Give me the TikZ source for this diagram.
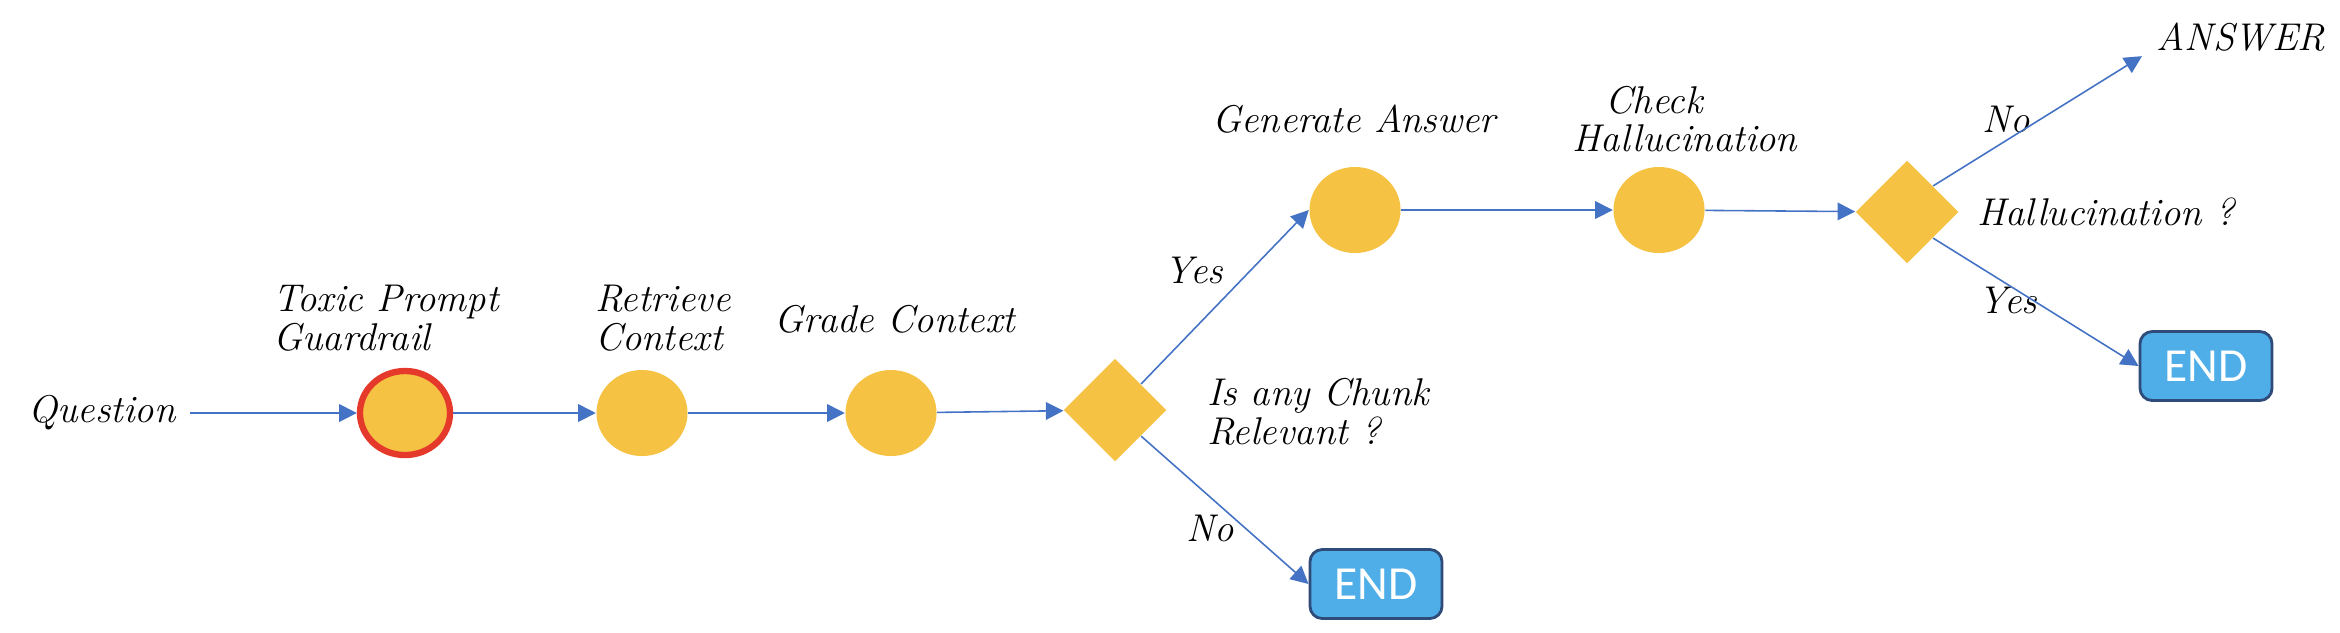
\documentclass[tikz,border=0pt]{standalone}
\usepackage{fontspec}
\newfontfamily\endfont{Carlito}
\usetikzlibrary{shapes.geometric,arrows.meta}
\definecolor{gold}{HTML}{F5C243}
\definecolor{guardred}{HTML}{E53A2B}
\definecolor{arrowblue}{HTML}{4472C4}
\definecolor{endblue}{HTML}{4FAEE8}
\definecolor{endborder}{HTML}{2F4B7A}
\tikzset{
  proc/.style={ellipse, fill=gold, minimum width=0.91cm, minimum height=0.86cm, inner sep=0pt},
  guard/.style={ellipse, fill=gold, draw=guardred, line width=1.8pt, minimum width=0.9cm, minimum height=0.84cm, inner sep=0pt},
  decision/.style={diamond, fill=gold, minimum width=1.03cm, minimum height=1.03cm, inner sep=0pt},
  endbox/.style={rectangle, rounded corners=3.5pt, fill=endblue, draw=endborder, line width=0.8pt,
    minimum width=1.32cm, minimum height=0.69cm, text=white, font=\endfont\fontsize{13.5}{15}\selectfont},
  lbl/.style={font=\itshape\fontsize{11}{11}\selectfont, inner sep=1pt},
  flow/.style={draw=arrowblue, line width=0.45pt, -{Triangle[length=5pt,width=5pt]}}
}
\begin{document}
\begin{tikzpicture}[x=0.01cm,y=-0.01cm]
\useasboundingbox (0,0) rectangle (2340,632);
% nodes
\node[lbl, inner xsep=4pt] (q) at (102,413) {Question};
\node[guard] (g1) at (405,413) {};
\node[proc] (ret) at (642,413) {};
\node[proc] (gc) at (891,413) {};
\node[decision] (d1) at (1115,410) {};
\node[endbox] (end1) at (1376,584) {END};
\node[proc] (gen) at (1355,210) {};
\node[proc] (chk) at (1659,210) {};
\node[decision] (d2) at (1907,212) {};
\node[endbox] (end2) at (2206,366) {END};
\node[lbl, inner xsep=4pt, inner ysep=1.2pt] (ans) at (2241,37) {ANSWER};
% captions
\node[lbl, align=left] (t1) at (386,318) {Toxic Prompt\\Guardrail};
\node[lbl, align=left] (t2) at (663,318) {Retrieve\\Context};
\node[lbl] (t3) at (895,319) {Grade Context};
\node[lbl, align=left, anchor=west] (t4) at (1203,412) {Is any Chunk\\Relevant ?};
\node[lbl] (t5) at (1354,119) {Generate Answer};
\node[lbl, align=left] (t6) at (1685,119) {\hspace*{0.33cm}Check\\Hallucination};
\node[lbl, anchor=west] (t7) at (1973,212) {Hallucination ?};
% edge labels
\node[lbl] (y1) at (1194,270) {Yes};
\node[lbl] (n1) at (1210,528) {No};
\node[lbl] (n2) at (2006,119) {No};
\node[lbl] (y2) at (2008,300) {Yes};
% connectors
\draw[flow] (q.east) -- (g1);
\draw[flow] (g1) -- (ret);
\draw[flow] (ret) -- (gc);
\draw[flow] (gc) -- (d1);
\draw[flow] (d1.north east) -- (gen.west);
\draw[flow] (d1.south east) -- (end1.west);
\draw[flow] (gen) -- (chk);
\draw[flow] (chk) -- (d2);
\draw[flow] (d2.north east) -- (ans.south west);
\draw[flow] (d2.south east) -- (end2.west);
\end{tikzpicture}
\end{document}
